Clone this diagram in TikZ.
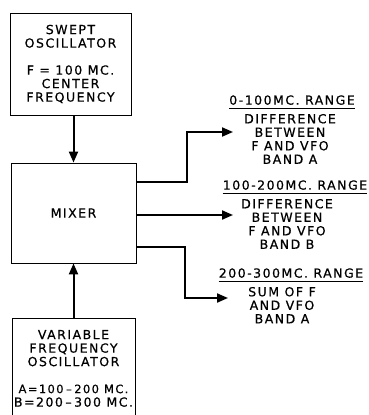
\documentclass[tikz,border=0pt]{standalone}
\usepackage{fontspec}
\setmainfont{DejaVu Sans}[LetterSpace=12, FakeBold=0.5]
\usepackage{tikz}
\usetikzlibrary{positioning,arrows.meta}

\begin{document}
\begin{tikzpicture}[
  x=1pt, y=-1pt, font=\fontsize{12.5}{13.5}\selectfont,
  box/.style={draw, line width=0.8pt, align=center, inner sep=0pt},
  rng/.style={inner xsep=0pt, inner ysep=3pt, text depth=0pt},
  desc/.style={align=center, inner sep=2pt},
  arr/.style={line width=2pt, -{Triangle[length=11pt, width=9pt]}}]
\useasboundingbox (0,0) rectangle (369,415);
\node[box, minimum width=121pt, minimum height=102pt] (swept) at (70.5,64)
  {SWEPT\\OSCILLATOR\\[13.5pt]F = 100 MC.\hspace*{30pt}\\CENTER\hspace*{8pt}\\FREQUENCY};
\node[box, minimum width=125pt, minimum height=100pt] (mixer) at (73.5,213) {MIXER};
\node[box, minimum width=123pt, minimum height=100pt, anchor=north] (vfo) at (73.5,318)
  {VARIABLE\\FREQUENCY\\OSCILLATOR\\[13.5pt]\fontsize{11.5}{13}\selectfont
   A=100\hspace{2.5pt}--\hspace{2.5pt}200 MC.\\B=200\hspace{2.5pt}--\hspace{2.5pt}300 MC.};
\draw[arr] (mixer.north |- swept.south) -- (mixer.north);
\draw[arr] (mixer.south |- vfo.north) -- (mixer.south);
% outputs
\node[rng] (r1) at (292,100) {0-100MC. RANGE};
\draw (r1.south west) -- (r1.south east);
\node[desc, below=4pt of r1, xshift=-2pt] (d1) {DIFFERENCE\\BETWEEN\\F AND VFO\\BAND A};
\node[rng] (r2) at (295,185) {100-200MC. RANGE};
\draw (r2.south west) -- (r2.south east);
\node[desc, below=4pt of r2, xshift=-8pt] (d2) {DIFFERENCE\\BETWEEN\\F AND VFO\\BAND B};
\node[rng] (r3) at (291,273) {200-300MC. RANGE};
\draw (r3.south west) -- (r3.south east);
\node[desc, below=4pt of r3, xshift=-9pt] (d3) {SUM OF F\\AND VFO\\BAND A};
\coordinate (t1) at (233,132);
\coordinate (t2) at (233,215);
\coordinate (t3) at (228,298);
\draw[arr] ([yshift=31pt]mixer.east) -- ++(51,0) |- (t1);
\draw[arr] (mixer.east |- t2) -- (t2);
\draw[arr] ([yshift=-34pt]mixer.east) -- ++(49,0) |- (t3);
\end{tikzpicture}
\end{document}
